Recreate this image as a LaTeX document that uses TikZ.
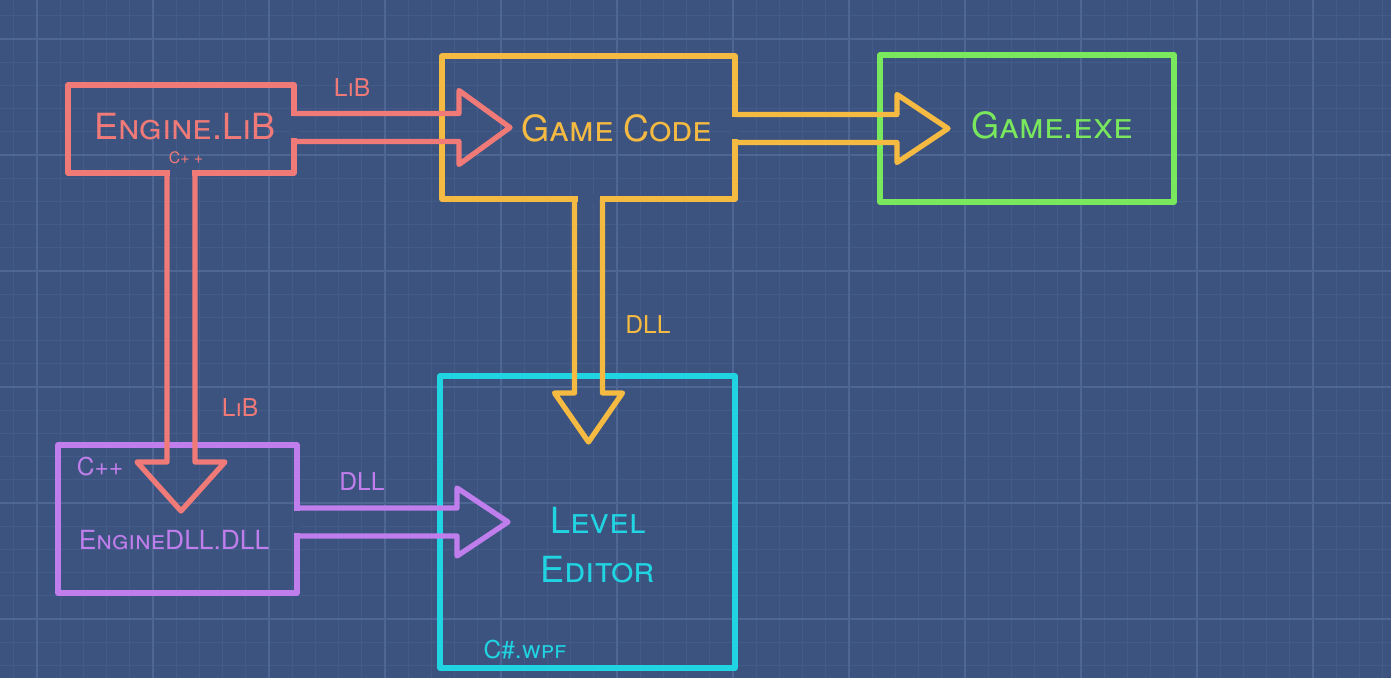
\documentclass[tikz,border=0pt]{standalone}
\usepackage{fontspec}
\setmainfont{TeX Gyre Heros}
\usetikzlibrary{calc,fit,positioning}
\definecolor{bgblue}{RGB}{60,83,127}
\definecolor{gridc}{RGB}{67,91,136}
\definecolor{gridmaj}{RGB}{78,102,147}
\definecolor{pinkc}{RGB}{240,122,120}
\definecolor{yellowc}{RGB}{245,186,66}
\definecolor{greenc}{RGB}{122,232,92}
\definecolor{cyanc}{RGB}{32,212,226}
\definecolor{purplec}{RGB}{192,126,236}
% block arrow leaving #1 to the right, ending in #2, head half width #4
\newcommand{\rightflow}[4]{%
  \fill[bgblue] ($(#1.east |- #2.west)+(-4,-11)$) rectangle ($(#1.east |- #2.west)+(4,11)$);
  \draw[flow=#3] ($(#1.east |- #2.west)+(0,-14)$) -- ($(#2.west)+(17,-14)$) -- ($(#2.west)+(17,-#4)$)
    -- ($(#2.west)+(68,0)$) -- ($(#2.west)+(17,#4)$) -- ($(#2.west)+(17,14)$) -- ($(#1.east |- #2.west)+(0,14)$);
}
% block arrow leaving #1 downwards, ending in #2
\newcommand{\downflow}[4]{%
  \fill[bgblue] ($(#1.south)+(-11,-4)$) rectangle ($(#1.south)+(11,4)$);
  \draw[flow=#3] ($(#1.south)+(-14,0)$) -- ($(#2.north -| #1.south)+(-14,17)$) -- ($(#2.north -| #1.south)+(-#4,17)$)
    -- ($(#2.north -| #1.south)+(0,66)$) -- ($(#2.north -| #1.south)+(#4,17)$) -- ($(#2.north -| #1.south)+(14,17)$) -- ($(#1.south)+(14,0)$);
}
\begin{document}
\begin{tikzpicture}[x=0.02cm,y=-0.02cm,
    box/.style={draw=#1,line width=3pt,line join=round,inner sep=0pt,outer sep=0pt},
    flow/.style={draw=#1,line width=3pt,line join=round},
    title/.style={text=#1,font=\fontsize{20.5}{28}\selectfont\scshape,align=center},
    tag/.style={text=#1,font=\fontsize{14}{16}\selectfont\scshape},
    tiny/.style={text=#1,font=\fontsize{9}{10}\selectfont\scshape}]
  \useasboundingbox (0,0) rectangle (1391,678);
  \fill[bgblue] (0,0) rectangle (1391,678);
  % grid
  \foreach \k in {-1,...,58} \draw[gridc,line width=0.4pt] ({37+23.2*\k},0) -- ({37+23.2*\k},678);
  \foreach \k in {-1,...,28} \draw[gridc,line width=0.4pt] (0,{39+23.2*\k}) -- (1391,{39+23.2*\k});
  \foreach \k in {0,...,11} \draw[gridmaj,line width=0.7pt] ({37+116*\k},0) -- ({37+116*\k},678);
  \foreach \k in {0,...,5} \draw[gridmaj,line width=0.7pt] (0,{39+116*\k}) -- (1391,{39+116*\k});

  % boxes
  \node[box=pinkc,fit={(68,85) (294,173)}] (eng) {};
  \node[box=yellowc,fit={(442,56) (735,199)}] (gc) {};
  \node[box=greenc,fit={(880,55) (1174,202)}] (exe) {};
  \node[box=cyanc,fit={(440,376) (735,668)}] (lvl) {};
  \node[box=purplec,fit={(58,445) (297,593)}] (dll) {};

  % arrows
  \rightflow{eng}{gc}{pinkc}{37}
  \rightflow{gc}{exe}{yellowc}{34}
  \rightflow{dll}{lvl}{purplec}{34}
  \downflow{eng}{dll}{pinkc}{44}
  \downflow{gc}{lvl}{yellowc}{34}

  % names
  \node[title=pinkc] (engname) at (185,127) {Engine.LiB};
  \node[tiny=pinkc] (engcpp) at (186,158) {C+ +};
  \node[title=yellowc] (gcname) at (617,128) {Game Code};
  \node[title=greenc] (exename) at (1052,125) {Game.exe};
  \node[title=cyanc] (lvlname) at (598,545) {Level\\Editor};
  \node[tag=purplec,font=\fontsize{15}{17}\selectfont\scshape] (dllname) at (174,540) {EngineDLL.DLL};
  \node[tag=purplec] (dllcpp) at (100,467) {C++};
  \node[tag=cyanc] (wpf) at (525,650) {C\#.wpf};

  % labels on the arrows
  \node[tag=pinkc] (lib1) at (352,88) {LiB};
  \node[tag=yellowc] (dll1) at (648,325) {DLL};
  \node[tag=pinkc] (lib2) at (240,408) {LiB};
  \node[tag=purplec] (dll2) at (362,482) {DLL};
\end{tikzpicture}
\end{document}
